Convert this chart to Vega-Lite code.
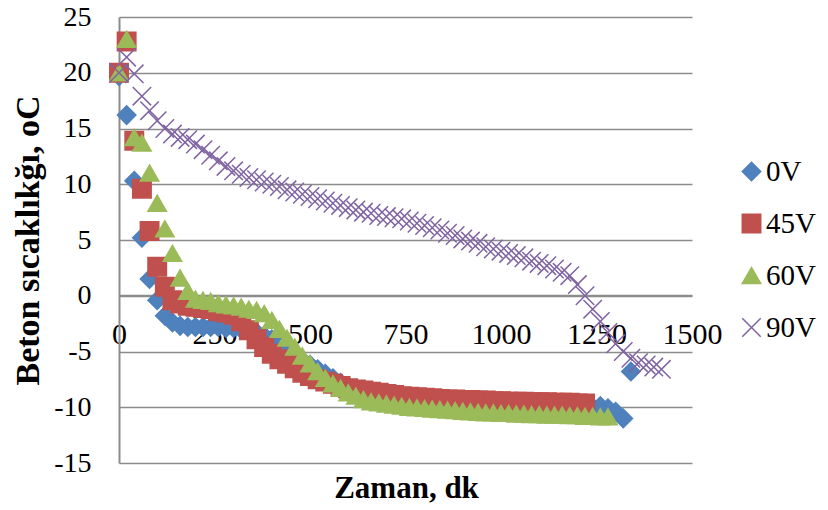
{
"$schema":"https://vega.github.io/schema/vega-lite/v6.json",
"width":573,"height":446,
"autosize":{"type":"none"},
"padding":{"left":119,"top":17,"right":136,"bottom":47},
"background":"white",
"config":{"view":{"stroke":null},"font":"Liberation Serif"},
"data":{"values":[
{"s":"0V","t":0,"v":19.7},{"s":"0V","t":20,"v":16.2},{"s":"0V","t":40,"v":10.3},{"s":"0V","t":60,"v":5.2},{"s":"0V","t":80,"v":1.5},{"s":"0V","t":100,"v":-0.4},{"s":"0V","t":120,"v":-1.8},{"s":"0V","t":140,"v":-2.4},{"s":"0V","t":160,"v":-2.7},{"s":"0V","t":180,"v":-2.8},{"s":"0V","t":200,"v":-2.8},{"s":"0V","t":220,"v":-2.8},{"s":"0V","t":240,"v":-2.8},{"s":"0V","t":260,"v":-2.8},{"s":"0V","t":280,"v":-2.9},{"s":"0V","t":300,"v":-2.9},{"s":"0V","t":320,"v":-3.0},{"s":"0V","t":340,"v":-3.1},{"s":"0V","t":360,"v":-3.3},{"s":"0V","t":380,"v":-3.6},{"s":"0V","t":400,"v":-3.9},{"s":"0V","t":420,"v":-4.3},{"s":"0V","t":440,"v":-4.8},{"s":"0V","t":460,"v":-5.3},{"s":"0V","t":480,"v":-5.8},{"s":"0V","t":500,"v":-6.2},{"s":"0V","t":520,"v":-6.6},{"s":"0V","t":540,"v":-7.0},{"s":"0V","t":560,"v":-7.4},{"s":"0V","t":580,"v":-7.8},{"s":"0V","t":600,"v":-8.1},{"s":"0V","t":620,"v":-8.4},{"s":"0V","t":640,"v":-8.7},{"s":"0V","t":660,"v":-8.9},{"s":"0V","t":680,"v":-9.1},{"s":"0V","t":700,"v":-9.3},{"s":"0V","t":720,"v":-9.4},{"s":"0V","t":740,"v":-9.5},{"s":"0V","t":760,"v":-9.6},{"s":"0V","t":780,"v":-9.6},{"s":"0V","t":800,"v":-9.7},{"s":"0V","t":820,"v":-9.7},{"s":"0V","t":840,"v":-9.8},{"s":"0V","t":860,"v":-9.8},{"s":"0V","t":880,"v":-9.8},{"s":"0V","t":900,"v":-9.8},{"s":"0V","t":920,"v":-9.9},{"s":"0V","t":940,"v":-9.9},{"s":"0V","t":960,"v":-9.9},{"s":"0V","t":980,"v":-9.9},{"s":"0V","t":1000,"v":-9.9},{"s":"0V","t":1020,"v":-9.9},{"s":"0V","t":1040,"v":-10.0},{"s":"0V","t":1060,"v":-10.0},{"s":"0V","t":1080,"v":-10.0},{"s":"0V","t":1100,"v":-10.0},{"s":"0V","t":1120,"v":-10.0},{"s":"0V","t":1140,"v":-10.0},{"s":"0V","t":1160,"v":-10.0},{"s":"0V","t":1180,"v":-10.0},{"s":"0V","t":1200,"v":-10.0},{"s":"0V","t":1220,"v":-10.0},{"s":"0V","t":1240,"v":-10.0},{"s":"0V","t":1260,"v":-9.9},{"s":"0V","t":1280,"v":-10.1},{"s":"0V","t":1300,"v":-10.4},{"s":"0V","t":1320,"v":-11.0},{"s":"0V","t":1340,"v":-6.8},
{"s":"45V","t":0,"v":20.0},{"s":"45V","t":20,"v":22.8},{"s":"45V","t":40,"v":13.9},{"s":"45V","t":60,"v":9.6},{"s":"45V","t":80,"v":5.8},{"s":"45V","t":100,"v":2.6},{"s":"45V","t":120,"v":0.8},{"s":"45V","t":140,"v":-0.4},{"s":"45V","t":160,"v":-0.7},{"s":"45V","t":180,"v":-0.9},{"s":"45V","t":200,"v":-1.0},{"s":"45V","t":220,"v":-1.1},{"s":"45V","t":240,"v":-1.2},{"s":"45V","t":260,"v":-1.4},{"s":"45V","t":280,"v":-1.5},{"s":"45V","t":300,"v":-1.7},{"s":"45V","t":320,"v":-2.3},{"s":"45V","t":340,"v":-3.1},{"s":"45V","t":360,"v":-3.9},{"s":"45V","t":380,"v":-4.6},{"s":"45V","t":400,"v":-5.2},{"s":"45V","t":420,"v":-5.7},{"s":"45V","t":440,"v":-6.1},{"s":"45V","t":460,"v":-6.5},{"s":"45V","t":480,"v":-6.9},{"s":"45V","t":500,"v":-7.2},{"s":"45V","t":520,"v":-7.5},{"s":"45V","t":540,"v":-7.7},{"s":"45V","t":560,"v":-7.9},{"s":"45V","t":580,"v":-8.1},{"s":"45V","t":600,"v":-8.3},{"s":"45V","t":620,"v":-8.4},{"s":"45V","t":640,"v":-8.5},{"s":"45V","t":660,"v":-8.6},{"s":"45V","t":680,"v":-8.7},{"s":"45V","t":700,"v":-8.8},{"s":"45V","t":720,"v":-8.9},{"s":"45V","t":740,"v":-9.0},{"s":"45V","t":760,"v":-9.05},{"s":"45V","t":780,"v":-9.1},{"s":"45V","t":800,"v":-9.15},{"s":"45V","t":820,"v":-9.2},{"s":"45V","t":840,"v":-9.25},{"s":"45V","t":860,"v":-9.3},{"s":"45V","t":880,"v":-9.3},{"s":"45V","t":900,"v":-9.35},{"s":"45V","t":920,"v":-9.35},{"s":"45V","t":940,"v":-9.4},{"s":"45V","t":960,"v":-9.4},{"s":"45V","t":980,"v":-9.45},{"s":"45V","t":1000,"v":-9.45},{"s":"45V","t":1020,"v":-9.5},{"s":"45V","t":1040,"v":-9.5},{"s":"45V","t":1060,"v":-9.5},{"s":"45V","t":1080,"v":-9.55},{"s":"45V","t":1100,"v":-9.55},{"s":"45V","t":1120,"v":-9.55},{"s":"45V","t":1140,"v":-9.6},{"s":"45V","t":1160,"v":-9.6},{"s":"45V","t":1180,"v":-9.6},{"s":"45V","t":1200,"v":-9.65},{"s":"45V","t":1220,"v":-9.65},
{"s":"60V","t":0,"v":20.0},{"s":"60V","t":20,"v":23.0},{"s":"60V","t":40,"v":14.2},{"s":"60V","t":60,"v":13.7},{"s":"60V","t":80,"v":11.0},{"s":"60V","t":100,"v":8.3},{"s":"60V","t":120,"v":6.0},{"s":"60V","t":140,"v":3.8},{"s":"60V","t":160,"v":1.6},{"s":"60V","t":180,"v":0.4},{"s":"60V","t":200,"v":-0.3},{"s":"60V","t":220,"v":-0.4},{"s":"60V","t":240,"v":-0.5},{"s":"60V","t":260,"v":-0.7},{"s":"60V","t":280,"v":-0.8},{"s":"60V","t":300,"v":-0.9},{"s":"60V","t":320,"v":-1.0},{"s":"60V","t":340,"v":-1.2},{"s":"60V","t":360,"v":-1.3},{"s":"60V","t":380,"v":-1.6},{"s":"60V","t":400,"v":-2.2},{"s":"60V","t":420,"v":-3.0},{"s":"60V","t":440,"v":-3.8},{"s":"60V","t":460,"v":-4.6},{"s":"60V","t":480,"v":-5.4},{"s":"60V","t":500,"v":-6.1},{"s":"60V","t":520,"v":-6.8},{"s":"60V","t":540,"v":-7.4},{"s":"60V","t":560,"v":-7.9},{"s":"60V","t":580,"v":-8.3},{"s":"60V","t":600,"v":-8.7},{"s":"60V","t":620,"v":-9.0},{"s":"60V","t":640,"v":-9.3},{"s":"60V","t":660,"v":-9.5},{"s":"60V","t":680,"v":-9.6},{"s":"60V","t":700,"v":-9.7},{"s":"60V","t":720,"v":-9.8},{"s":"60V","t":740,"v":-9.9},{"s":"60V","t":760,"v":-10.0},{"s":"60V","t":780,"v":-10.05},{"s":"60V","t":800,"v":-10.1},{"s":"60V","t":820,"v":-10.15},{"s":"60V","t":840,"v":-10.2},{"s":"60V","t":860,"v":-10.25},{"s":"60V","t":880,"v":-10.3},{"s":"60V","t":900,"v":-10.35},{"s":"60V","t":920,"v":-10.4},{"s":"60V","t":940,"v":-10.45},{"s":"60V","t":960,"v":-10.5},{"s":"60V","t":980,"v":-10.5},{"s":"60V","t":1000,"v":-10.55},{"s":"60V","t":1020,"v":-10.55},{"s":"60V","t":1040,"v":-10.6},{"s":"60V","t":1060,"v":-10.6},{"s":"60V","t":1080,"v":-10.65},{"s":"60V","t":1100,"v":-10.65},{"s":"60V","t":1120,"v":-10.7},{"s":"60V","t":1140,"v":-10.7},{"s":"60V","t":1160,"v":-10.7},{"s":"60V","t":1180,"v":-10.75},{"s":"60V","t":1200,"v":-10.75},{"s":"60V","t":1220,"v":-10.8},{"s":"60V","t":1240,"v":-10.8},{"s":"60V","t":1260,"v":-10.85},{"s":"60V","t":1280,"v":-10.85},
{"s":"90V","t":0,"v":20.0},{"s":"90V","t":20,"v":21.4},{"s":"90V","t":40,"v":19.9},{"s":"90V","t":60,"v":17.9},{"s":"90V","t":80,"v":16.6},{"s":"90V","t":100,"v":15.7},{"s":"90V","t":120,"v":15.0},{"s":"90V","t":140,"v":14.5},{"s":"90V","t":160,"v":14.2},{"s":"90V","t":180,"v":14.0},{"s":"90V","t":200,"v":13.6},{"s":"90V","t":220,"v":13.1},{"s":"90V","t":240,"v":12.6},{"s":"90V","t":260,"v":12.1},{"s":"90V","t":280,"v":11.6},{"s":"90V","t":300,"v":11.2},{"s":"90V","t":320,"v":10.9},{"s":"90V","t":340,"v":10.6},{"s":"90V","t":360,"v":10.4},{"s":"90V","t":380,"v":10.2},{"s":"90V","t":400,"v":10.0},{"s":"90V","t":420,"v":9.8},{"s":"90V","t":440,"v":9.5},{"s":"90V","t":460,"v":9.3},{"s":"90V","t":480,"v":9.1},{"s":"90V","t":500,"v":8.9},{"s":"90V","t":520,"v":8.7},{"s":"90V","t":540,"v":8.5},{"s":"90V","t":560,"v":8.3},{"s":"90V","t":580,"v":8.1},{"s":"90V","t":600,"v":7.9},{"s":"90V","t":620,"v":7.7},{"s":"90V","t":640,"v":7.5},{"s":"90V","t":660,"v":7.4},{"s":"90V","t":680,"v":7.2},{"s":"90V","t":700,"v":7.1},{"s":"90V","t":720,"v":7.0},{"s":"90V","t":740,"v":6.9},{"s":"90V","t":760,"v":6.7},{"s":"90V","t":780,"v":6.5},{"s":"90V","t":800,"v":6.3},{"s":"90V","t":820,"v":6.1},{"s":"90V","t":840,"v":5.9},{"s":"90V","t":860,"v":5.6},{"s":"90V","t":880,"v":5.4},{"s":"90V","t":900,"v":5.1},{"s":"90V","t":920,"v":4.9},{"s":"90V","t":940,"v":4.7},{"s":"90V","t":960,"v":4.4},{"s":"90V","t":980,"v":4.2},{"s":"90V","t":1000,"v":4.0},{"s":"90V","t":1020,"v":3.8},{"s":"90V","t":1040,"v":3.6},{"s":"90V","t":1060,"v":3.4},{"s":"90V","t":1080,"v":3.1},{"s":"90V","t":1100,"v":2.9},{"s":"90V","t":1120,"v":2.7},{"s":"90V","t":1140,"v":2.4},{"s":"90V","t":1160,"v":2.1},{"s":"90V","t":1180,"v":1.8},{"s":"90V","t":1200,"v":1.0},{"s":"90V","t":1220,"v":0.0},{"s":"90V","t":1240,"v":-1.2},{"s":"90V","t":1260,"v":-2.3},{"s":"90V","t":1280,"v":-3.3},{"s":"90V","t":1300,"v":-4.3},{"s":"90V","t":1320,"v":-5.0},{"s":"90V","t":1340,"v":-5.6},{"s":"90V","t":1360,"v":-6.0},{"s":"90V","t":1380,"v":-6.2},{"s":"90V","t":1400,"v":-6.4},{"s":"90V","t":1420,"v":-6.6}
]},
"mark":{"type":"point","filled":true,"opacity":1,"strokeWidth":1.5,"size":340},
"encoding":{
"x":{"field":"t","type":"quantitative","scale":{"domain":[0,1500],"nice":false},
 "axis":{"values":[0,250,500,750,1000,1250,1500],"labelExpr":"'' + datum.value","offset":-168,"grid":false,"ticks":false,"domainColor":"#8c8c8c","domainWidth":1.5,"labelFontSize":30,"labelColor":"black","labelPadding":24,"labelFlush":false,"labelOverlap":false,"title":"Zaman, dk","titleFontSize":31,"titleFontWeight":"bold","titleColor":"black","titleX":287,"titleY":193,"titleBaseline":"middle","titleAlign":"center"}},
"y":{"field":"v","type":"quantitative","scale":{"domain":[-15,25],"nice":false},
 "axis":{"values":[-15,-10,-5,0,5,10,15,20,25],"labelExpr":"'' + datum.value","grid":true,"gridColor":"#8c8c8c","gridWidth":1.5,"ticks":false,"domainColor":"#8c8c8c","domainWidth":2,"labelFontSize":28,"labelColor":"black","labelPadding":28,"title":"Beton sıcaklıkğı, oC","titleFontSize":34,"titleFontWeight":"bold","titleColor":"black","titleX":-91,"titleY":223,"titleAngle":-90,"titleAlign":"center","titleBaseline":"middle"}},
"color":{"field":"s","type":"nominal","scale":{"domain":["0V","45V","60V","90V"],"range":["#4F81BD","#C0504D","#9BBB59","#8064A2"]},
 "legend":{"orient":"none","legendX":618,"legendY":140,"title":null,"padding":0,"labelFontSize":29,"labelColor":"black","labelOffset":0,"rowPadding":22,"symbolStrokeWidth":1.5,"symbolSize":340}},
"stroke":{"field":"s","type":"nominal","scale":{"domain":["0V","45V","60V","90V"],"range":["#4F81BD","#C0504D","#9BBB59","#8064A2"]}},
"shape":{"field":"s","type":"nominal","scale":{"domain":["0V","45V","60V","90V"],"range":["diamond","square","triangle-up","M-1,-1L1,1M1,-1L-1,1"]}}
}
}
